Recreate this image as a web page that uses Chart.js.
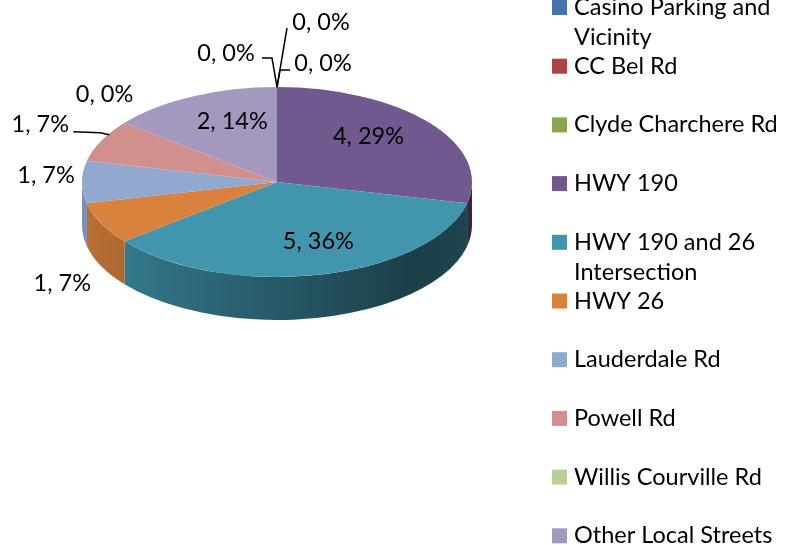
<!DOCTYPE html>
<html>
<head>
<meta charset="utf-8">
<title>Crashes by Location</title>
<script src="https://cdn.jsdelivr.net/npm/chart.js@4.4.0/dist/chart.umd.min.js"></script>
<style>
  html, body { margin: 0; padding: 0; background: #ffffff; }
  #wrap { width: 786px; height: 545px; }
</style>
</head>
<body>
<div id="wrap"><canvas id="pieChart" width="786" height="545"></canvas></div>
<script>
// crash locations and counts
const locations = [
    'Casino Parking and Vicinity',
    'CC Bel Rd',
    'Clyde Charchere Rd',
    'HWY 190',
    'HWY 190 and 26 Intersection',
    'HWY 26',
    'Lauderdale Rd',
    'Powell Rd',
    'Willis Courville Rd',
    'Other Local Streets'
];
const counts = [0, 0, 0, 4, 5, 1, 1, 1, 0, 2];

const sliceColors = [
    '#4674AA', '#A94643', '#8AA74F', '#71588F', '#4196AE',
    '#D9823E', '#91A8CF', '#D1908E', '#B9CF98', '#A598BE'
];

const FONT = '"Lato", "Open Sans", sans-serif';
const FONT_SIZE = 23.5;

// where each data label sits, relative to a point at fraction f of the rim
// leader: optional polyline (offsets from the same point)
const labelSpots = [
    { f: 1, dx: -51, dy: -34, leader: [[0, 0], [-5, -29], [-15, -29]] },
    { f: 1, dx: 44, dy: -65, leader: [[0, 0], [10, -59]] },
    { f: 1, dx: 46, dy: -24, leader: [[0, 0], [3, -17], [13, -17]] },
    { f: 0.6, dx: 0, dy: -10 },
    { f: 0.7, dx: 11, dy: -5 },
    { f: 1, dx: -39, dy: 60 },
    { f: 1, dx: -36, dy: -7 },
    { f: 1, dx: -61, dy: -16, leader: [[8, -6], [-1, -8], [-28, -9]] },
    { f: 1, dx: -20, dy: -28 },
    { f: 0.6, dx: 6, dy: -9 }
];

function shade(hex, k) {
    const n = parseInt(hex.slice(1), 16);
    const r = Math.round(((n >> 16) & 255) * k);
    const g = Math.round(((n >> 8) & 255) * k);
    const b = Math.round((n & 255) * k);
    return 'rgb(' + r + ',' + g + ',' + b + ')';
}

// squashes the pie into an ellipse and adds the front wall underneath
const pie3d = {
    id: 'pie3d',
    beforeDatasetsDraw(chart, args, opts) {
        const ctx = chart.ctx;
        const arcs = chart.getDatasetMeta(0).data;
        const cx = arcs[0].x, cy = opts.centerY;
        const rx = arcs[0].outerRadius, ry = rx * opts.tilt, d = opts.depth;
        const colors = chart.data.datasets[0].backgroundColor;

        arcs.forEach((arc, i) => {
            const lo = Math.max(arc.startAngle, 0);
            const hi = Math.min(arc.endAngle, Math.PI);
            if (hi <= lo) return;
            const g = ctx.createLinearGradient(cx - rx, 0, cx + rx, 0);
            g.addColorStop(0, shade(colors[i], 0.86));
            g.addColorStop(0.25, shade(colors[i], 0.72));
            g.addColorStop(0.85, shade(colors[i], 0.42));
            g.addColorStop(1, shade(colors[i], 0.46));
            ctx.beginPath();
            ctx.ellipse(cx, cy, rx, ry, 0, lo, hi, false);
            ctx.lineTo(cx + rx * Math.cos(hi), cy + ry * Math.sin(hi) + d);
            ctx.ellipse(cx, cy + d, rx, ry, 0, hi, lo, true);
            ctx.closePath();
            ctx.fillStyle = g;
            ctx.fill();
        });

        ctx.save();
        ctx.translate(cx, cy);
        ctx.scale(1, opts.tilt);
        ctx.translate(-cx, -arcs[0].y);
    },
    afterDatasetsDraw(chart) {
        chart.ctx.restore();
    }
};

// "count, percent" labels with leader lines
const sliceLabels = {
    id: 'sliceLabels',
    afterDraw(chart, args, opts) {
        const ctx = chart.ctx;
        const arcs = chart.getDatasetMeta(0).data;
        const values = chart.data.datasets[0].data;
        const total = values.reduce((a, b) => a + b, 0);
        const cx = arcs[0].x, cy = opts.centerY;
        const rx = arcs[0].outerRadius, ry = rx * opts.tilt;

        ctx.save();
        ctx.font = FONT_SIZE + 'px ' + FONT;
        ctx.fillStyle = '#000';
        ctx.strokeStyle = '#000';
        ctx.lineWidth = 1.5;
        ctx.textAlign = 'center';
        ctx.textBaseline = 'middle';
        arcs.forEach((arc, i) => {
            const spot = labelSpots[i];
            const mid = (arc.startAngle + arc.endAngle) / 2;
            const px = cx + spot.f * rx * Math.cos(mid);
            const py = cy + spot.f * ry * Math.sin(mid);
            if (spot.leader) {
                ctx.beginPath();
                spot.leader.forEach((p, j) => {
                    if (j === 0) ctx.moveTo(px + p[0], py + p[1]);
                    else ctx.lineTo(px + p[0], py + p[1]);
                });
                ctx.stroke();
            }
            const pct = Math.round(values[i] / total * 100);
            ctx.fillText(values[i] + ', ' + pct + '%', px + spot.dx, py + spot.dy);
        });
        ctx.restore();
    }
};

// legend column on the right, long names wrap onto a second line
const sideLegend = {
    id: 'sideLegend',
    afterDraw(chart, args, opts) {
        const ctx = chart.ctx;
        const labels = chart.data.labels;
        const colors = chart.data.datasets[0].backgroundColor;
        ctx.save();
        ctx.font = FONT_SIZE + 'px ' + FONT;
        ctx.textAlign = 'left';
        ctx.textBaseline = 'middle';
        labels.forEach((name, i) => {
            const y = opts.top + i * opts.step;
            ctx.fillStyle = colors[i];
            ctx.fillRect(opts.x, y - 7.5, 15, 15);
            ctx.fillStyle = '#000';
            const words = name.split(' ');
            let line = '', ly = y;
            words.forEach(w => {
                const test = line ? line + ' ' + w : w;
                if (line && ctx.measureText(test).width > opts.wrap) {
                    ctx.fillText(line, opts.x + 22, ly);
                    line = w;
                    ly += opts.lineHeight;
                } else {
                    line = test;
                }
            });
            ctx.fillText(line, opts.x + 22, ly);
        });
        ctx.restore();
    }
};

document.addEventListener('DOMContentLoaded', function () {
    const ctx = document.getElementById('pieChart').getContext('2d');

    const data = {
        labels: locations,
        datasets: [{
            data: counts,
            backgroundColor: sliceColors,
            borderWidth: 0
        }]
    };

    const config = {
        type: 'pie',
        data: data,
        options: {
            responsive: false,
            animation: false,
            devicePixelRatio: 1,
            layout: { padding: { left: 82, right: 314, top: 0, bottom: 155 } },
            plugins: {
                legend: { display: false },
                tooltip: { enabled: false },
                pie3d: { centerY: 182, tilt: 0.487, depth: 43 },
                sliceLabels: { centerY: 182, tilt: 0.487 },
                sideLegend: { x: 552, top: 7.5, step: 58.7, lineHeight: 30, wrap: 214 }
            }
        },
        plugins: [pie3d, sliceLabels, sideLegend]
    };

    const myChart = new Chart(ctx, config);
});
</script>
</body>
</html>
